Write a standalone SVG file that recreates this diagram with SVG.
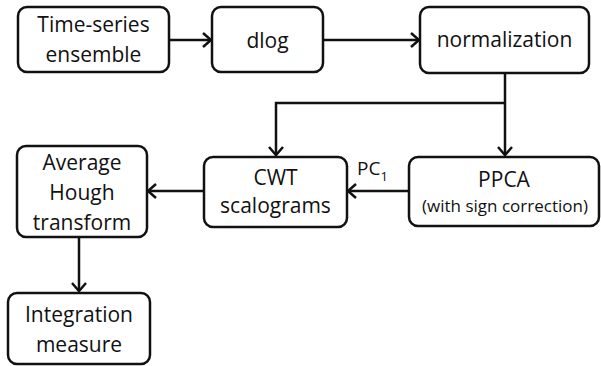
<svg xmlns="http://www.w3.org/2000/svg" width="601" height="366" viewBox="0 0 601 366">
<style>
.box{fill:#fff;stroke:#111;stroke-width:2.5}
.t{font-family:"Open Sans","Liberation Sans",sans-serif;font-size:21px;fill:#111;text-anchor:middle}
.s{font-size:17px}
.ln{fill:none;stroke:#111;stroke-width:2.5}
</style>
<defs>
<marker id="ah" markerUnits="userSpaceOnUse" markerWidth="14" markerHeight="16" refX="10" refY="8" orient="auto" viewBox="0 0 14 16">
<path d="M2,1 L10,8 L2,15" fill="none" stroke="#111" stroke-width="2.5"/>
</marker>
</defs>
<rect width="601" height="366" fill="#fff"/>
<g id="connectors">
<path class="ln" d="M169,40 H211" marker-end="url(#ah)"/>
<path class="ln" d="M323,40 H419" marker-end="url(#ah)"/>
<path class="ln" d="M505,73 V155" marker-end="url(#ah)"/>
<path class="ln" d="M505,103 H276 V155" marker-end="url(#ah)"/>
<path class="ln" d="M409,191 H348" marker-end="url(#ah)"/>
<path class="ln" d="M204,191 H148" marker-end="url(#ah)"/>
<path class="ln" d="M79,237 V291" marker-end="url(#ah)"/>
<text class="t" x="357" y="175" style="text-anchor:start;font-size:19px">PC<tspan dy="6" font-size="13">1</tspan></text>
</g>
<g id="n1">
<rect class="box" x="18" y="7" width="151" height="65" rx="9"/>
<text class="t" x="93.5" y="32">Time-series</text>
<text class="t" x="93.5" y="62">ensemble</text>
</g>
<g id="n2">
<rect class="box" x="212" y="7" width="111" height="65" rx="9"/>
<text class="t" x="267.5" y="48">dlog</text>
</g>
<g id="n3">
<rect class="box" x="420" y="7" width="169" height="66" rx="9"/>
<text class="t" x="504.5" y="47">normalization</text>
</g>
<g id="n4">
<rect class="box" x="204" y="157" width="143" height="70" rx="9"/>
<text class="t" x="275.5" y="185">CWT</text>
<text class="t" x="275.5" y="213">scalograms</text>
</g>
<g id="n5">
<rect class="box" x="409" y="157" width="190" height="69" rx="9"/>
<text class="t" x="504" y="187">PPCA</text>
<text class="t s" x="505" y="212">(with sign correction)</text>
</g>
<g id="n6">
<rect class="box" x="17" y="146" width="130" height="91" rx="9"/>
<text class="t" x="82" y="170">Average</text>
<text class="t" x="82" y="200">Hough</text>
<text class="t" x="82" y="230">transform</text>
</g>
<g id="n7">
<rect class="box" x="8" y="293" width="142" height="71" rx="9"/>
<text class="t" x="79" y="322">Integration</text>
<text class="t" x="79" y="352">measure</text>
</g>
</svg>
